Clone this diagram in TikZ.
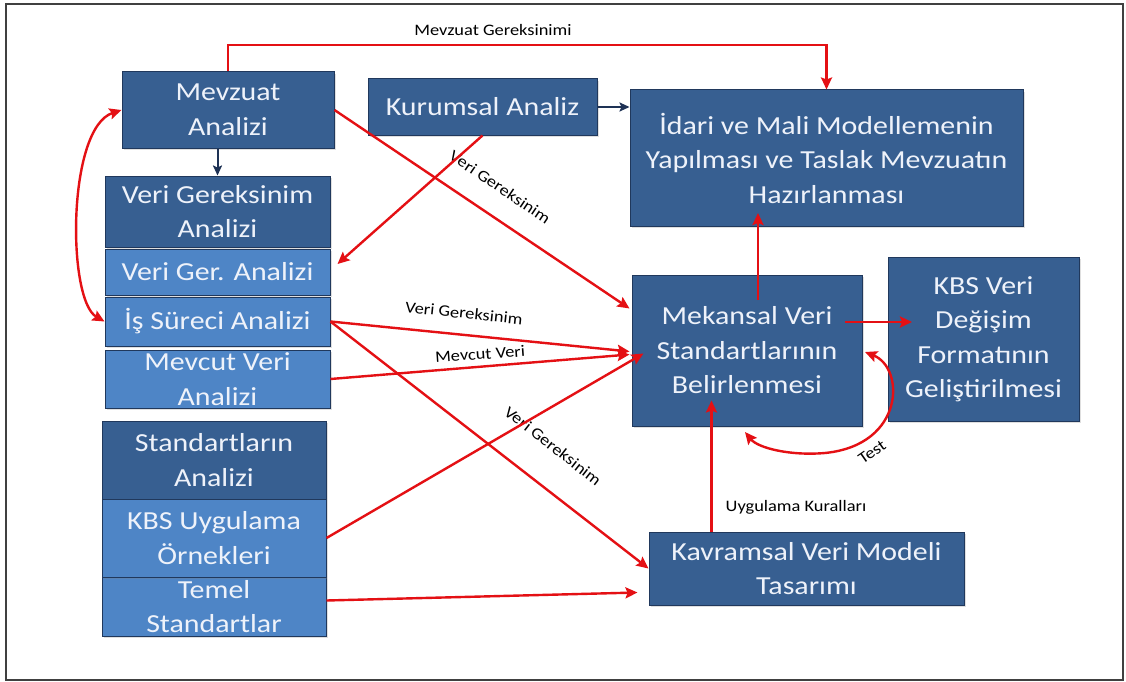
\documentclass[tikz,border=0pt]{standalone}
\usepackage{fontspec}
\setmainfont{Carlito}[FakeStretch=1.15]
\usetikzlibrary{arrows.meta,calc,shadows}

\definecolor{darkbox}{RGB}{55,95,145}
\definecolor{lightbox}{RGB}{78,133,198}
\definecolor{boxline}{RGB}{32,56,92}
\definecolor{boxtext}{RGB}{238,242,250}
\definecolor{flowred}{RGB}{228,16,20}
\definecolor{navy}{RGB}{30,50,85}

\tikzset{
  box/.style={draw=boxline, line width=1pt, text=boxtext, align=center,
    inner sep=0pt, font=\fontsize{26}{34.5}\selectfont,
    drop shadow={opacity=0.25, shadow xshift=2pt, shadow yshift=-2pt}},
  darkbox/.style={box, fill=darkbox},
  lightbox/.style={box, fill=lightbox},
  redflow/.style={draw=flowred, line width=2.4pt,
    -{Stealth[length=12pt,width=11pt,inset=2pt]}},
  navyflow/.style={draw=navy, line width=2pt,
    -{Stealth[length=10pt,width=9pt,inset=2pt]}},
  bothends/.style={{Stealth[length=12pt,width=11pt,inset=2pt]}-{Stealth[length=12pt,width=11pt,inset=2pt]}},
  flowlabel/.style={font=\fontsize{16}{18}\selectfont, text=black, inner sep=0pt}
}

\begin{document}
\begin{tikzpicture}[x=1pt, y=-1pt]
\useasboundingbox (0,0) rectangle (1126,682);
\fill[white] (0,0) rectangle (1126,682);
\draw[line width=1.4pt, black!75] (6,4) rectangle (1123,680);

% left column: analysis blocks
\node[darkbox, minimum width=212pt, minimum height=76pt] (mevz) at (228,110) {Mevzuat\\Analizi};
\node[darkbox, minimum width=225pt, minimum height=71pt] (vgan) at (217.5,211.5) {Veri Gereksinim\\Analizi};
\node[lightbox, minimum width=225pt, minimum height=46pt] (vger) at (217.5,272) {Veri Ger. Analizi};
\node[lightbox, minimum width=225pt, minimum height=49pt] (isss) at (217.5,321.5) {İş Süreci Analizi};
\node[lightbox, minimum width=225pt, minimum height=58pt] (mevc) at (217.5,379) {Mevcut Veri\\Analizi};
\node[darkbox, minimum width=224pt, minimum height=78pt] (stan) at (214,460) {Standartların\\Analizi};
\node[lightbox, minimum width=224pt, minimum height=59pt] (teml) at (214,606.5) {Temel\\Standartlar};
\node[lightbox, minimum width=224pt, minimum height=78pt] (kbsu) at (214,538) {KBS Uygulama\\Örnekleri};

% upper and right blocks
\node[darkbox, minimum width=229pt, minimum height=56pt] (kuru) at (482.5,107) {Kurumsal Analiz};
\node[darkbox, minimum width=393pt, minimum height=136pt] (idar) at (826.5,158)
  {İdari ve Mali Modellemenin\\Yapılması ve Taslak Mevzuatın\\Hazırlanması};
\node[darkbox, minimum width=230pt, minimum height=151pt] (meka) at (747,350.5)
  {Mekansal Veri\\Standartlarının\\Belirlenmesi};
\node[darkbox, minimum width=191pt, minimum height=164pt] (kbsv) at (983.5,339)
  {KBS Veri\\Değişim\\Formatının\\Geliştirilmesi};
\node[darkbox, minimum width=315pt, minimum height=73pt] (kavr) at (806.5,568.5)
  {Kavramsal Veri Modeli\\Tasarımı};

% connector helpers
\coordinate (mgcorner) at (826.5,45);
\coordinate (mekaA) at ($(meka.north west)+(-2,34)$);
\coordinate (mekaB) at ($(meka.west)+(-2,1)$);
\coordinate (mekaC) at ($(meka.west)+(-2,4)$);
\coordinate (mekaD) at ($(meka.west)+(12,3)$);
\coordinate (mekaIn) at ($(meka.south west)+(80,-26)$);
\coordinate (kavrOut) at ($(kavr.north west)+(63,0)$);
\coordinate (kavrIn) at ($(kavr.west)+(-11,24)$);
\coordinate (temlOut) at ($(teml.east)+(0,-6)$);
\coordinate (vgerIn) at ($(vger.east)+(7,-8)$);
\coordinate (mekaUp) at (758,300);
\coordinate (idarIn) at (758,213);
\coordinate (mekaR) at (845,322);
\coordinate (kbsvIn) at (912,322);
\coordinate (testA) at (865,352);
\coordinate (testB) at (745,432);

% dark connectors
\draw[navyflow] (kuru.east) -- (kuru.east -| idar.west);
\draw[navyflow] (vgan.north |- mevz.south) -- (vgan.north);

% red connectors
\draw[redflow] (mevz.north) |- (mgcorner) -- (idar.north);
\node[flowlabel] (lmg) at (493,30) {Mevzuat Gereksinimi};

\draw[redflow] (mevz.east) -- (mekaA);
\node[flowlabel, rotate=-34] (lvg1) at (500,187) {Veri Gereksinim};

\draw[redflow] (kuru.south) -- (vgerIn);

\draw[redflow, bothends]
  (isss.west) .. controls (67,300) and (67,128) .. (mevz.west);

\draw[redflow] (isss.east) -- (mekaB);
\node[flowlabel, rotate=-6] (lvg2) at (464,313) {Veri Gereksinim};

\draw[redflow] (mevc.east) -- (mekaC);
\node[flowlabel, rotate=4] (lmv) at (480,354) {Mevcut Veri};

\draw[redflow] (isss.east) -- (kavr.west);
\node[flowlabel, rotate=-38] (lvg3) at (553,446) {Veri Gereksinim};

\draw[redflow] (kbsu.east) -- (mekaD);
\draw[redflow] (temlOut) -- (kavrIn);

\draw[redflow] (mekaUp) -- (idarIn);
\draw[redflow] (mekaR) -- (kbsvIn);

\draw[redflow, bothends]
  (testA) .. controls (905,368) and (905,445) .. (825,453)
          .. controls (790,456) and (758,448) .. (testB);
\node[flowlabel, rotate=35] (ltest) at (872,452) {Test};

\draw[redflow] (kavrOut) -- (mekaIn);
\node[flowlabel] (luk) at (796,507) {Uygulama Kuralları};
\end{tikzpicture}
\end{document}
